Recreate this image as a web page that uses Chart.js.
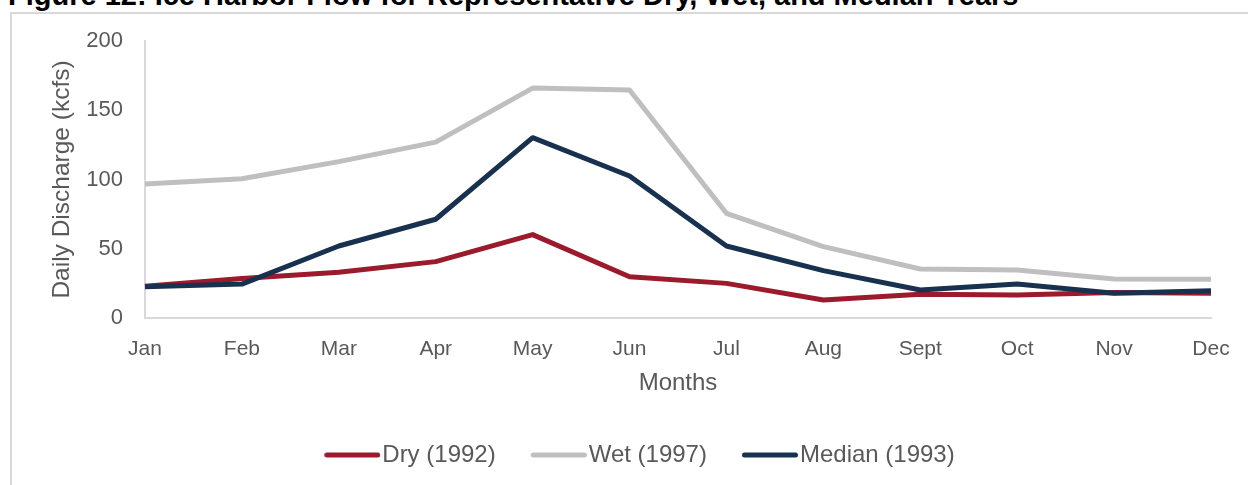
<!DOCTYPE html>
<html>
<head>
<meta charset="utf-8">
<script src="https://cdn.jsdelivr.net/npm/chart.js@4/dist/chart.umd.min.js"></script>
<style>
  html, body { margin: 0; padding: 0; background: #fff; overflow: hidden; width: 1248px; height: 485px; }
  #title { position: absolute; left: 8px; top: -19px; font: bold 29px/29px "Liberation Sans", Arial, sans-serif; color: #000; white-space: nowrap; }
  #box { position: absolute; left: 10px; top: 12px; width: 1254px; height: 484px; border-left: 2px solid #D9D9D9; border-top: 2px solid #D9D9D9; }
  canvas { display: block; }
</style>
</head>
<body>
<div id="title">Figure 12: Ice Harbor Flow for Representative Dry, Wet, and Median Years</div>
<div id="box"><canvas id="c" width="1254" height="463"></canvas></div>
<script>
const months = ["Jan", "Feb", "Mar", "Apr", "May", "Jun", "Jul", "Aug", "Sept", "Oct", "Nov", "Dec"];
const dry1992 = [23, 28.6, 33, 40.7, 60.2, 29.8, 25, 13, 17.1, 16.6, 18.5, 17.8];
const wet1997 = [96.8, 100.6, 112.9, 127, 166, 164.6, 75.6, 51.5, 35.4, 34.7, 28.2, 28];
const median1993 = [22.6, 24.5, 52, 71.3, 130.2, 102.5, 52, 34.2, 20.2, 24.5, 17.8, 19.7];
const seriesNames = ["Dry (1992)", "Wet (1997)", "Median (1993)"];
const yTicks = [0, 50, 100, 150, 200];

const colors = ["#9B1B2C", "#BFBFBF", "#17314F"];
const textColor = "#595959";
const axisColor = "#D9D9D9";
const FONT = "'Liberation Sans', Arial, sans-serif";

function lineImg(color) {
  const c = document.createElement('canvas');
  c.width = 68; c.height = 8;
  const x = c.getContext('2d');
  x.strokeStyle = color; x.lineWidth = 5; x.lineCap = 'round';
  x.beginPath(); x.moveTo(14.5, 4); x.lineTo(65.5, 4); x.stroke();
  return c;
}
const legendImgs = colors.map(lineImg);

const common = { borderWidth: 5, pointRadius: 0, pointHoverRadius: 0, tension: 0, fill: false, borderJoinStyle: 'round' };
const clear = 'rgba(0,0,0,0)';

new Chart(document.getElementById('c'), {
  type: 'line',
  data: {
    labels: months,
    datasets: [
      Object.assign({ label: seriesNames[0], data: dry1992, borderColor: colors[0], backgroundColor: colors[0], order: 2 }, common),
      Object.assign({ label: seriesNames[1], data: wet1997, borderColor: colors[1], backgroundColor: colors[1], order: 1 }, common),
      Object.assign({ label: seriesNames[2], data: median1993, borderColor: colors[2], backgroundColor: colors[2], order: 0 }, common)
    ]
  },
  options: {
    responsive: false,
    devicePixelRatio: 1,
    animation: false,
    events: [],
    layout: { padding: { top: 27, left: 54, right: 55, bottom: 0 } },
    plugins: {
      tooltip: { enabled: false },
      legend: {
        position: 'bottom',
        labels: {
          color: textColor,
          font: { family: FONT, size: 24 },
          usePointStyle: true,
          pointStyleWidth: 48,
          padding: 33,
          sort: (a, b) => a.datasetIndex - b.datasetIndex,
          generateLabels: (chart) => {
            const items = Chart.defaults.plugins.legend.labels.generateLabels(chart);
            items.forEach(it => { it.pointStyle = legendImgs[it.datasetIndex]; });
            return items;
          }
        }
      }
    },
    scales: {
      x: {
        grid: { display: false, drawTicks: false },
        border: { display: true, color: axisColor, width: 2 },
        ticks: { color: textColor, font: { family: FONT, size: 21 }, padding: 19, maxRotation: 0, autoSkip: false },
        title: { display: true, text: 'Months', color: textColor, font: { family: FONT, size: 24 }, padding: { top: 0, bottom: 12 } },
        afterFit: (s) => { s.height = 92; }
      },
      y: {
        min: 0, max: 200,
        grid: { display: true, color: clear, drawTicks: true, tickLength: 9, tickColor: clear },
        border: { display: true, color: axisColor, width: 2 },
        afterBuildTicks: (s) => { s.ticks = yTicks.map(v => ({ value: v })); },
        ticks: { color: textColor, font: { family: FONT, size: 22 }, padding: 13 },
        title: { display: true, text: 'Daily Discharge (kcfs)', color: textColor, font: { family: FONT, size: 24.5 }, padding: { top: -18, bottom: 0 } },
        afterFit: (s) => { s.width = 79; }
      }
    }
  }
});
</script>
</body>
</html>
